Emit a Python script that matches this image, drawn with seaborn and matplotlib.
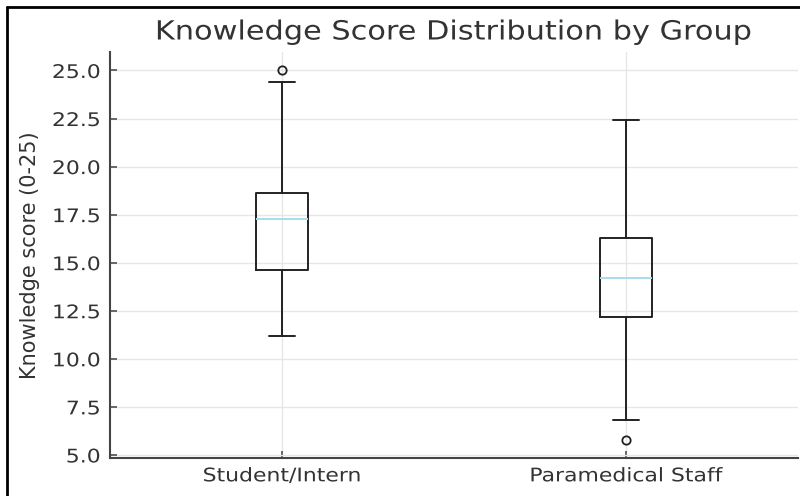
import seaborn as sns
import matplotlib
matplotlib.use("Agg")
import matplotlib.pyplot as plt
from matplotlib.lines import Line2D
from matplotlib.patheffects import AbstractPathEffect
from matplotlib.transforms import Affine2D

groups = ["Student/Intern", "Paramedical Staff"]
whislo = [11.2, 6.8]
q1 = [14.6, 12.2]
med = [17.25, 14.2]
q3 = [18.65, 16.3]
whishi = [24.4, 22.4]
fliers = [[25.0], [5.8]]


class Stretch(AbstractPathEffect):
    # the reference image is a bit wider than tall, so widen the glyphs
    def __init__(self, sx=1.0, sy=1.0, anchor=0.5):
        super().__init__()
        self.sx, self.sy, self.anchor = sx, sy, anchor

    def draw_path(self, renderer, gc, tpath, affine, rgbFace=None):
        ext = tpath.get_extents()
        x0 = ext.x0 + self.anchor * (ext.x1 - ext.x0)
        y0 = ext.y0
        t = Affine2D().translate(-x0, -y0).scale(self.sx, self.sy).translate(x0, y0) + affine
        renderer.draw_path(gc, tpath, t, rgbFace)


sns.set_theme(style="whitegrid")
plt.rcParams['font.family'] = ['DejaVu Sans']
text_color = "#333333"
sx = 1.17

fig = plt.figure(figsize=(8, 4.96), dpi=100)
ax = fig.add_axes([110 / 800, 1 - 458 / 496, (798 - 110) / 800, (458 - 52) / 496])

stats = []
for i, g in enumerate(groups):
    stats.append({
        "label": g, "whislo": whislo[i], "q1": q1[i], "med": med[i],
        "q3": q3[i], "whishi": whishi[i], "fliers": fliers[i],
    })

line_kw = {"color": "#222222", "linewidth": 1.4}
ax.bxp(stats, positions=[1, 2], widths=0.15, patch_artist=False,
       boxprops=line_kw, whiskerprops=line_kw, capprops=line_kw,
       medianprops={"color": "#a8dcee", "linewidth": 1.4},
       flierprops={"marker": "o", "markerfacecolor": "none",
                   "markeredgecolor": "#222222", "markersize": 6,
                   "markeredgewidth": 1.3})

ax.set_xlim(0.5, 2.5)
ax.set_ylim(4.84, 25.96)
ax.set_yticks([5.0, 7.5, 10.0, 12.5, 15.0, 17.5, 20.0, 22.5, 25.0])
ax.set_yticklabels(["5.0", "7.5", "10.0", "12.5", "15.0", "17.5", "20.0", "22.5", "25.0"])
ax.grid(True, color="#e6e6e6", linewidth=1.0)
for s in ["top", "right"]:
    ax.spines[s].set_visible(False)
for s in ["left", "bottom"]:
    ax.spines[s].set_color("#444444")
    ax.spines[s].set_linewidth(1.5)
ax.tick_params(axis="both", direction="in", length=5, color="#555555",
               labelcolor=text_color, labelsize=13.5, left=True, bottom=True)
ax.tick_params(axis="y", pad=7)
ax.tick_params(axis="x", pad=6)
for lab in ax.get_yticklabels():
    lab.set_path_effects([Stretch(sx=sx, anchor=1.0)])
for lab in ax.get_xticklabels():
    lab.set_path_effects([Stretch(sx=sx, anchor=0.5)])

ax.set_ylabel("Knowledge score (0-25)", fontsize=15, color=text_color)
ax.yaxis.set_label_coords(-0.102, 0.5)

title = ax.set_title("Knowledge Score Distribution by Group", fontsize=19,
                     color=text_color, pad=9)
title.set_path_effects([Stretch(sx=1.15, anchor=0.5)])

# screenshot frame
fig.add_artist(Line2D([7 / 800, 1], [1 - 7 / 496, 1 - 7 / 496], transform=fig.transFigure,
                      color="black", linewidth=2))
fig.add_artist(Line2D([7 / 800, 7 / 800], [0, 1 - 7 / 496], transform=fig.transFigure,
                      color="black", linewidth=2))

fig.savefig("out.png", dpi=100)
